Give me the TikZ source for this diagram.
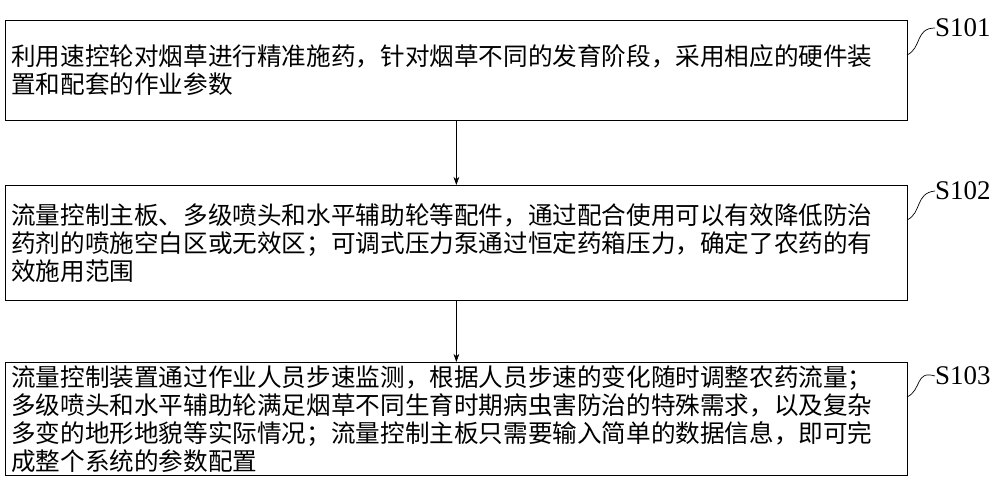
\documentclass[tikz,border=0pt]{standalone}
\usepackage{fontspec}
\setmainfont{Liberation Serif}
\newfontfamily\cjk{Noto Sans CJK SC}
\newcommand\stagefont{\cjk\fontsize{21}{24}\selectfont\lineskiplimit=-20pt\relax}
\usetikzlibrary{arrows.meta}
\tikzset{
    stage/.style={draw, line width=0.6pt, anchor=north west, minimum width=27.06cm,
        text width=26.7cm, align=left, inner sep=0pt, font=\stagefont},
    tag/.style={anchor=west, inner sep=0pt, font=\fontsize{23}{26}\selectfont},
    flow/.style={-{Stealth[length=7pt,width=5pt]}, line width=0.6pt}
}
\begin{document}
\begin{tikzpicture}[x=0.03cm, y=-0.03cm]
    \useasboundingbox (0,0) rectangle (1000,500);
    % stages
    \node[stage, minimum height=3cm] (s1) at (5,20)
        {利用速控轮对烟草进行精准施药，针对烟草不同的发育阶段，采用相应的硬件装\\置和配套的作业参数};
    \node[stage, minimum height=3.45cm] (s2) at (5,185)
        {流量控制主板、多级喷头和水平辅助轮等配件，通过配合使用可以有效降低防治\\药剂的喷施空白区或无效区；可调式压力泵通过恒定药箱压力，确定了农药的有\\效施用范围};
    \node[stage, minimum height=3.39cm] (s3) at (5,362)
        {流量控制装置通过作业人员步速监测，根据人员步速的变化随时调整农药流量；\\多级喷头和水平辅助轮满足烟草不同生育时期病虫害防治的特殊需求，以及复杂\\多变的地形地貌等实际情况；流量控制主板只需要输入简单的数据信息，即可完\\成整个系统的参数配置};
    % arrows
    \draw[flow] (s1.south) -- (s2.north);
    \draw[flow] (s2.south) -- (s3.north);
    % stage labels
    \node[tag] (t1) at (935,28) {S101};
    \node[tag] (t2) at (935,191) {S102};
    \node[tag] (t3) at (935,376) {S103};
    \foreach \i/\y in {1/20, 2/185, 3/362} {
        \coordinate (c\i) at (907,\y+35);
        \draw[line width=0.6pt] (c\i) .. controls (922,\y+28) and (915,\y+8) .. (t\i.west);
    }
\end{tikzpicture}
\end{document}
